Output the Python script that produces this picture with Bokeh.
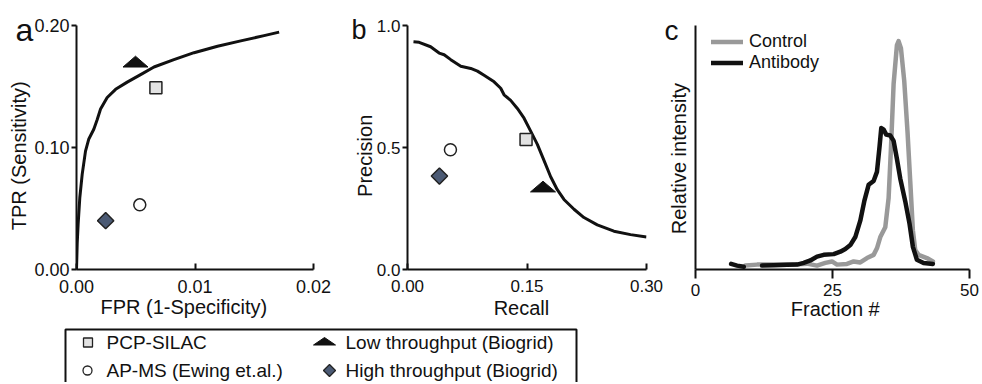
import numpy as np
from bokeh.plotting import figure
from bokeh.layouts import column, row
from bokeh.models import (Range1d, FixedTicker, Legend, LegendItem,
                          NumeralTickFormatter)
from bokeh.core.properties import value
from bokeh.embed import file_html
from bokeh.resources import INLINE

FONT = "Liberation Sans"
INK = "#111111"
NB = "\u00a0"

# ---------------- data ----------------
# panel a: ROC curve
roc_fpr = [0, 0.00006, 0.00014, 0.00028, 0.00048, 0.00076, 0.00104, 0.00146, 0.00175,
           0.00203, 0.00259, 0.0033, 0.00428, 0.00541, 0.00654, 0.00822, 0.00992,
           0.0119, 0.01386, 0.01583, 0.0171]
roc_tpr = [0, 0.0215, 0.0376, 0.059, 0.078, 0.097, 0.107, 0.115, 0.123, 0.1315, 0.141,
           0.1477, 0.1536, 0.1597, 0.166, 0.172, 0.1777, 0.183, 0.1874, 0.1917, 0.1946]

# panel b: precision-recall curve
pr_recall = [0.0075, 0.0146, 0.029, 0.0397, 0.046, 0.0543, 0.0669, 0.0794, 0.0878, 0.0961,
             0.1087, 0.117, 0.1212, 0.1295, 0.1379, 0.1463, 0.1546, 0.163, 0.1713, 0.1797,
             0.188, 0.1964, 0.209, 0.2215, 0.2382, 0.2591, 0.28, 0.3]
pr_precision = [0.933, 0.931, 0.913, 0.887, 0.88, 0.86, 0.833, 0.824, 0.813, 0.796, 0.769,
                0.743, 0.716, 0.693, 0.66, 0.62, 0.567, 0.513, 0.447, 0.38, 0.327, 0.287,
                0.247, 0.213, 0.183, 0.157, 0.143, 0.133]

# reference data sets (order: PCP-SILAC, AP-MS, Low throughput, High throughput)
methods = ["PCP-SILAC", "AP-MS (Ewing et.al.)", "Low throughput (Biogrid)",
           "High throughput (Biogrid)"]
method_fpr = [0.0067, 0.00534, 0.00498, 0.00246]
method_tpr = [0.149, 0.053, 0.1704, 0.040]
method_recall = [0.1488, 0.0539, 0.1701, 0.0401]
method_precision = [0.533, 0.491, 0.340, 0.383]

# panel c: elution profiles
control_fraction = [9.11, 11.24, 14.88, 17.92, 20.35, 22.17, 23.69, 24.91, 25.82, 27.64,
                    28.86, 30.07, 31.29, 32.5, 33.11, 33.72, 34.63, 35.24, 35.66, 36.15,
                    36.76, 37.06, 37.49, 38.09, 38.7, 39.19, 39.67, 40.1, 40.7, 42.22, 43.32]
control_intensity = [0.016, 0.02, 0.02, 0.02, 0.024, 0.016, 0.027, 0.033, 0.02, 0.023,
                     0.033, 0.029, 0.047, 0.06, 0.087, 0.133, 0.173, 0.293, 0.493, 0.76,
                     0.92, 0.936, 0.907, 0.773, 0.56, 0.36, 0.16, 0.08, 0.06, 0.047, 0.033]
antibody_fraction = [6.5, 7.59, 8.81, np.nan, 12.15, 14.28, 16.71, 18.53, 19.74, 20.96,
                     22.17, 23.39, 25.21, 26.43, 27.34, 28.25, 29.16, 30.07, 30.8, 31.59,
                     32.5, 33.11, 33.6, 33.9, 34.33, 34.81, 35.54, 36.15, 36.76, 37.36,
                     38.27, 39.06, 39.67, 40.4, 41.62, 43.32]
antibody_intensity = [0.023, 0.016, 0.011, np.nan, 0.016, 0.017, 0.019, 0.02, 0.027, 0.037,
                      0.053, 0.06, 0.063, 0.073, 0.084, 0.1, 0.133, 0.2, 0.28, 0.347,
                      0.363, 0.4, 0.507, 0.58, 0.573, 0.553, 0.549, 0.527, 0.453, 0.373,
                      0.28, 0.187, 0.093, 0.04, 0.027, 0.023]

panel_letters = ["a", "b", "c"]

# ---------------- styling helpers ----------------
SQ_FILL = "#e2e2e2"
DIA_FILL = "#4b5a74"


def base_fig(w, h, xr, yr, left, right, top, bottom):
    p = figure(width=w, height=h, x_range=Range1d(*xr), y_range=Range1d(*yr),
               output_backend="svg", toolbar_location=None,
               min_border_left=left, min_border_right=right,
               min_border_top=top, min_border_bottom=bottom)
    p.xgrid.visible = False
    p.ygrid.visible = False
    p.outline_line_color = None
    return p


def style_axis(ax, tick_in, tick_out, lab_size, lab_standoff, title_standoff):
    ax.axis_line_width = 2
    ax.axis_line_color = INK
    ax.major_tick_line_width = 2
    ax.major_tick_line_color = INK
    ax.major_tick_in = tick_in
    ax.major_tick_out = tick_out
    ax.minor_tick_line_color = None
    ax.major_label_text_font = FONT
    ax.major_label_text_font_size = f"{lab_size}px"
    ax.major_label_text_color = INK
    ax.major_label_standoff = lab_standoff
    ax.axis_label_text_font = FONT
    ax.axis_label_text_font_size = "20px"
    ax.axis_label_text_font_style = "normal"
    ax.axis_label_text_color = INK
    ax.axis_label_standoff = title_standoff


def triangle_patch(p, xs, ys, w_px, h_px, fw, fh):
    dx = (p.x_range.end - p.x_range.start) / fw * w_px / 2
    dy = (p.y_range.end - p.y_range.start) / fh * h_px / 2
    px = [[x - dx, x + dx, x] for x in xs]
    py = [[y - dy, y - dy, y + dy] for y in ys]
    p.patches(px, py, fill_color=INK, line_color=INK, line_width=1)


def add_points(p, xs, ys, fw, fh):
    p.scatter([xs[0]], [ys[0]], marker="square", size=12, fill_color=SQ_FILL,
              line_color="#222222", line_width=1.5)
    p.scatter([xs[1]], [ys[1]], marker="circle", size=12, fill_color="white",
              line_color="#222222", line_width=1.5)
    triangle_patch(p, [xs[2]], [ys[2]], 25, 11, fw, fh)
    p.scatter([xs[3]], [ys[3]], marker="square", size=11.5, angle=np.pi / 4,
              fill_color=DIA_FILL, line_color="#222222", line_width=1.5)


def panel_letter(p, t, offset, size, standoff):
    # the panel letter is the figure title, pulled left over the y-axis margin and
    # pushed down by a negative standoff
    p.title.text = t
    p.title.align = "left"
    p.title.offset = offset
    p.title.standoff = standoff
    p.title.text_font = FONT
    p.title.text_font_size = f"{size}px"
    p.title.text_font_style = "normal"
    p.title.text_color = INK


# ---------------- layout numbers ----------------
FWA, FHA = 237, 248
FWB, FHB = 239, 250
FWC, FHC = 274, 250
ROW_H = 322

# ---------------- panel a ----------------
pa = base_fig(76 + FWA + 20, ROW_H, (0, 0.02), (0, 0.2), 76, 20, 25, 49)
pa.line(roc_fpr, roc_tpr, line_color=INK, line_width=3, line_join="round")
add_points(pa, method_fpr, method_tpr, FWA, FHA)
pa.xaxis.ticker = FixedTicker(ticks=[0, 0.01, 0.02])
pa.yaxis.ticker = FixedTicker(ticks=[0, 0.1, 0.2])
pa.xaxis.formatter = NumeralTickFormatter(format="0.00")
pa.yaxis.formatter = NumeralTickFormatter(format="0.00")
pa.xaxis.axis_label = "FPR (1-Specificity)" + NB * 4
pa.yaxis.axis_label = "TPR (Sensitivity)" + NB * 3
style_axis(pa.xaxis[0], 6, 0, 18, 10, 0)
style_axis(pa.yaxis[0], 0, 5, 18, 2, 1)
panel_letter(pa, panel_letters[0], -61, 32, -44)

# ---------------- panel b ----------------
pb = base_fig(74 + FWB + 17, ROW_H, (0, 0.3), (0, 1.0), 74, 17, 25, 47)
pb.line(pr_recall, pr_precision, line_color=INK, line_width=3, line_join="round")
add_points(pb, method_recall, method_precision, FWB, FHB)
pb.xaxis.ticker = FixedTicker(ticks=[0, 0.15, 0.3])
pb.yaxis.ticker = FixedTicker(ticks=[0, 0.5, 1.0])
pb.xaxis.formatter = NumeralTickFormatter(format="0.00")
pb.yaxis.formatter = NumeralTickFormatter(format="0.0")
pb.xaxis.axis_label = "Recall" + NB * 2
pb.yaxis.axis_label = "Precision" + NB * 3
style_axis(pb.xaxis[0], 6, 0, 17, 10, 2)
style_axis(pb.yaxis[0], 0, 5, 17, 2, -2)
panel_letter(pb, panel_letters[1], -56, 27, -39)

# ---------------- panel c ----------------
pc = base_fig(32 + FWC + 10, ROW_H, (0, 50), (0, 1.0), 32, 10, 23, 49)
r_ctrl = pc.line(control_fraction, control_intensity, line_color="#999999", line_width=4.5,
                 line_join="round", line_cap="round")
r_ab = pc.line(antibody_fraction, antibody_intensity, line_color=INK, line_width=4.5,
               line_join="round", line_cap="round")
pc.xaxis.ticker = FixedTicker(ticks=[0, 25, 50])
pc.yaxis.ticker = FixedTicker(ticks=[])
pc.xaxis.axis_label = NB + "Fraction #"
pc.yaxis.axis_label = "Relative intensity" + NB * 4
style_axis(pc.xaxis[0], 0, 9, 17, 5, -1)
style_axis(pc.yaxis[0], 0, 0, 17, 0, 6)
leg = Legend(items=[LegendItem(label="Control", renderers=[r_ctrl]),
                    LegendItem(label="Antibody", renderers=[r_ab])],
             location=(16, 196), padding=0, margin=0, spacing=0,
             glyph_width=32, glyph_height=21, label_height=21, label_standoff=6,
             label_text_font=FONT, label_text_font_size="18px", label_text_color=INK,
             border_line_color=None, background_fill_alpha=0)
pc.add_layout(leg)
panel_letter(pc, panel_letters[2], -31, 28, -40)

# ---------------- shared legend ----------------
LW, LH = (76 + FWA + 20) + (74 + FWB + 17) + (32 + FWC + 10), 60
pl = figure(width=LW, height=LH, x_range=Range1d(0, LW), y_range=Range1d(LH, 0),
            output_backend="svg", toolbar_location=None, x_axis_type=None,
            y_axis_type=None, min_border=0)
pl.xgrid.visible = False
pl.ygrid.visible = False
pl.outline_line_color = None
pl.line([65, 65, 576, 576], [LH, 7, 7, LH], line_color=INK, line_width=2)
pl.scatter([87.5], [20], marker="square", size=9, fill_color=SQ_FILL,
           line_color="#222222", line_width=1.3)
pl.scatter([87], [48], marker="circle", size=9, fill_color="white",
           line_color="#222222", line_width=1.3)
pl.patch([313, 335, 324], [22.5, 22.5, 15], fill_color=INK, line_color=INK, line_width=1)
pl.scatter([329], [48], marker="square", size=8.5, angle=np.pi / 4, fill_color=DIA_FILL,
           line_color="#222222", line_width=1.3)
pl.text([106, 106, 345, 345], [20, 48, 20, 48], text=methods,
        text_font=value(FONT), text_font_size="19px", text_color=INK,
        text_baseline="middle", text_align="left")

layout = column(row(pa, pb, pc, spacing=0), pl, spacing=0)
open("out.html", "w").write(file_html(layout, INLINE))
